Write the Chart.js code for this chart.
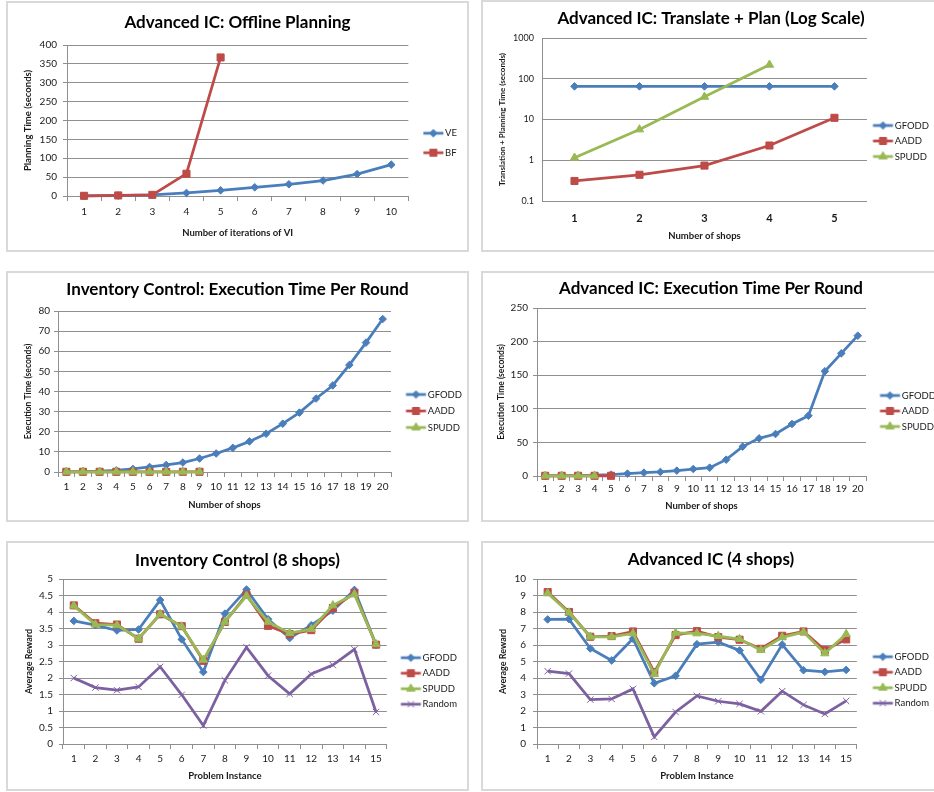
<!DOCTYPE html>
<html>
<head>
<meta charset="utf-8">
<script src="https://cdn.jsdelivr.net/npm/chart.js@4.4.1/dist/chart.umd.min.js"></script>
<style>
  body { margin: 0; background: #fff; width: 934px; height: 792px; overflow: hidden; position: relative; }
  .panel { position: absolute; border: 2px solid #d9d9d9; box-sizing: border-box; background: #fff; }
  .panel canvas { position: absolute; left: 0; top: 0; }
</style>
</head>
<body>
<div class="panel" style="left:6px;top:1px;width:463px;height:251px"><canvas id="c1" width="459" height="247"></canvas></div>
<div class="panel" style="left:481px;top:0px;width:460px;height:252px"><canvas id="c2" width="456" height="248"></canvas></div>
<div class="panel" style="left:6px;top:271px;width:463px;height:251px"><canvas id="c3" width="459" height="247"></canvas></div>
<div class="panel" style="left:481px;top:271px;width:460px;height:251px"><canvas id="c4" width="456" height="247"></canvas></div>
<div class="panel" style="left:6px;top:541px;width:463px;height:250px"><canvas id="c5" width="459" height="246"></canvas></div>
<div class="panel" style="left:481px;top:541px;width:460px;height:250px"><canvas id="c6" width="456" height="246"></canvas></div>
<script>
// ---- data ----
let viIterations = ['1', '2', '3', '4', '5', '6', '7', '8', '9', '10'];
let planVE = [0.5, 1, 3, 8, 15, 23, 31, 41, 58, 83];
let planBF = [0.5, 1.5, 3, 59, 367];

let shops5 = ['1', '2', '3', '4', '5'];
let tpGFODD = [65, 65, 65, 65, 65];
let tpAADD = [0.31, 0.44, 0.74, 2.3, 11];
let tpSPUDD = [1.15, 5.7, 36, 220];
let logTicks = [0.1, 1, 10, 100, 1000];

let shops20 = ['1', '2', '3', '4', '5', '6', '7', '8', '9', '10', '11', '12', '13', '14', '15', '16', '17', '18', '19', '20'];
let icGFODD = [0.1, 0.2, 0.4, 0.8, 1.5, 2.5, 3.5, 4.7, 6.7, 9.2, 12, 15.2, 19, 24, 29.5, 36.5, 43, 53.2, 64.3, 76];
let icAADD = [0.1, 0.1, 0.1, 0.1, 0.1, 0.1, 0.1, 0.1, 0.1];
let icSPUDD = [0.1, 0.1, 0.1, 0.1, 0.1, 0.1, 0.1, 0.1, 0.1];

let aicGFODD = [0.2, 0.4, 0.7, 1.2, 2, 3.5, 5, 6, 8, 10.4, 12.4, 24.3, 43.7, 56, 62.5, 77.4, 89.8, 155.8, 182.5, 208.8];
let aicAADD = [0.3, 0.3, 0.3, 0.3, 0.3];
let aicSPUDD = [0.3, 0.3, 0.3, 0.3];

let instances = ['1', '2', '3', '4', '5', '6', '7', '8', '9', '10', '11', '12', '13', '14', '15'];
let r8GFODD = [3.73, 3.60, 3.44, 3.47, 4.36, 3.17, 2.18, 3.95, 4.68, 3.78, 3.21, 3.60, 4.04, 4.67, 3.01];
let r8AADD = [4.20, 3.66, 3.62, 3.19, 3.93, 3.57, 2.52, 3.70, 4.52, 3.58, 3.33, 3.45, 4.12, 4.57, 3.01];
let r8SPUDD = [4.19, 3.62, 3.60, 3.19, 3.94, 3.56, 2.55, 3.70, 4.49, 3.70, 3.36, 3.48, 4.20, 4.54, 3.02];
let r8Random = [2.00, 1.71, 1.63, 1.73, 2.34, 1.49, 0.56, 1.93, 2.93, 2.07, 1.52, 2.12, 2.39, 2.87, 0.97];

let r4GFODD = [7.55, 7.57, 5.79, 5.06, 6.38, 3.68, 4.13, 6.05, 6.17, 5.67, 3.89, 6.03, 4.47, 4.37, 4.49];
let r4AADD = [9.21, 8.00, 6.50, 6.54, 6.82, 4.35, 6.60, 6.84, 6.48, 6.32, 5.77, 6.56, 6.82, 5.69, 6.34];
let r4SPUDD = [9.13, 7.96, 6.50, 6.50, 6.70, 4.23, 6.74, 6.70, 6.54, 6.36, 5.69, 6.46, 6.78, 5.49, 6.66];
let r4Random = [4.41, 4.27, 2.69, 2.73, 3.34, 0.43, 1.94, 2.91, 2.59, 2.43, 1.98, 3.20, 2.37, 1.82, 2.61];

// ---- styling ----
const FONT = 'Lato, "Open Sans", sans-serif';
const GRID = '#8f8f8f';
const TITLE_SIZE = 17;
const BLUE = '#4A7EBB', RED = '#BE4B48', GREEN = '#98B954', PURPLE = '#7D60A0';
const STYLES = {
  blue: {color: BLUE, pointStyle: 'rectRot', radius: 3.8},
  red: {color: RED, pointStyle: 'rect', radius: 5},
  green: {color: GREEN, pointStyle: 'triangle', radius: 4.8},
  purple: {color: PURPLE, pointStyle: 'crossRot', radius: 4.5}
};

function drawMarker(g, style, x, y, r) {
  g.lineWidth = 1;
  g.beginPath();
  if (style === 'rectRot') {
    g.moveTo(x, y - r); g.lineTo(x + r, y); g.lineTo(x, y + r); g.lineTo(x - r, y); g.closePath(); g.fill();
  } else if (style === 'rect') {
    const s = r * Math.SQRT1_2;
    g.rect(x - s, y - s, 2 * s, 2 * s); g.fill();
  } else if (style === 'triangle') {
    for (let k = 0; k < 3; k++) {
      const a = -Math.PI / 2 + k * 2 * Math.PI / 3;
      if (k === 0) g.moveTo(x + Math.cos(a) * r, y + Math.sin(a) * r);
      else g.lineTo(x + Math.cos(a) * r, y + Math.sin(a) * r);
    }
    g.closePath(); g.fill();
  } else {
    const d = r * Math.SQRT1_2;
    g.moveTo(x - d, y - d); g.lineTo(x + d, y + d);
    g.moveTo(x + d, y - d); g.lineTo(x - d, y + d);
  }
  g.stroke();
}

// legend swatch: short line with the marker in the middle, like Excel
function legendIcon(st, shift) {
  const boxW = shift + 17;
  const c = boxW / 2;
  const half = Math.ceil(Math.max(Math.abs(shift - c), Math.abs(shift + 20 - c))) + 2;
  const cv = document.createElement('canvas');
  cv.width = half * 2; cv.height = 14;
  const g = cv.getContext('2d');
  const x0 = half - c + shift;
  g.strokeStyle = st.color; g.fillStyle = st.color; g.lineWidth = 2.75;
  g.beginPath(); g.moveTo(x0, 7); g.lineTo(x0 + 20, 7); g.stroke();
  drawMarker(g, st.pointStyle, x0 + 10, 7, st.radius);
  return cv;
}

function series(label, data, st, i, n) {
  return {
    label: label, data: data,
    borderColor: st.color, backgroundColor: st.color, borderWidth: 2.75,
    pointStyle: st.pointStyle, pointRadius: st.radius,
    pointBackgroundColor: st.color, pointBorderColor: st.color, pointBorderWidth: 1,
    tension: 0, clip: false, order: n - i
  };
}

function makeChart(id, o) {
  const cv = document.getElementById(id);
  const W = cv.width, H = cv.height;
  const icons = o.styles.map(st => legendIcon(st, o.legend.shift));
  const datasets = o.series.map((s, i) => series(s[0], s[1], o.styles[i], i, o.series.length));
  const xTitleFont = {family: FONT, size: o.xTitleSize || 9.5, weight: 'bold', lineHeight: 1.2};
  const yTitleFont = {family: FONT, size: o.yTitleSize || 9, weight: 'bold', lineHeight: 1.2};
  const th = TITLE_SIZE * 0.6;
  return new Chart(cv, {
    type: 'line',
    data: {labels: o.labels, datasets: datasets},
    options: {
      responsive: false,
      animation: false,
      layout: {padding: 0},
      plugins: {
        tooltip: {enabled: false},
        title: {
          display: true, text: o.title, color: '#000',
          font: {family: FONT, size: TITLE_SIZE, weight: 'bold', lineHeight: 1.2},
          padding: {top: o.titleCenter - th, bottom: o.plot.t - o.titleCenter - th}
        },
        legend: {
          position: 'right',
          maxWidth: W - o.plot.r,
          title: {display: true, text: '', font: {size: 10, lineHeight: 1}, padding: {top: o.legend.th - 10, bottom: 0}},
          labels: {
            usePointStyle: true,
            pointStyleWidth: o.legend.shift + 17,
            padding: o.legend.pad,
            color: '#1a1a1a',
            font: {family: FONT, size: 9.5},
            generateLabels: chart => {
              const items = Chart.defaults.plugins.legend.labels.generateLabels(chart);
              items.sort((a, b) => a.datasetIndex - b.datasetIndex);
              items.forEach(it => { it.pointStyle = icons[it.datasetIndex]; });
              return items;
            }
          }
        }
      },
      scales: {
        x: {
          offset: true,
          afterFit: s => { s.height = H - o.plot.b; },
          grid: {display: true, drawOnChartArea: false, drawTicks: o.xTicks !== false, tickLength: 5, offset: true, color: GRID},
          border: {display: true, color: GRID},
          ticks: {
            autoSkip: false, maxRotation: 0, padding: o.xPad, color: '#1a1a1a',
            font: o.xBold ? {family: FONT, size: 11, weight: 'bold'} : {family: FONT, size: 10}
          },
          title: {
            display: true, text: o.xTitle, color: '#1a1a1a', font: xTitleFont,
            padding: {top: 0, bottom: H - o.xTitleCenter - xTitleFont.size * 0.6}
          }
        },
        y: Object.assign({
          afterFit: s => { s.width = o.plot.l; },
          grid: {color: GRID, drawTicks: o.yTicks !== false, tickLength: 4},
          border: {display: true, color: GRID},
          ticks: {
            autoSkip: false, padding: o.yPad, color: '#1a1a1a',
            font: {family: FONT, size: o.yTickSize || 10},
            stepSize: o.yStep,
            callback: v => String(v)
          },
          title: {
            display: true, text: o.yTitle, color: '#1a1a1a', font: yTitleFont,
            padding: {top: o.yTitleCenter - yTitleFont.size * 0.6, bottom: 0}
          }
        }, o.y)
      }
    }
  });
}

// ---- charts ----
let offlinePlanning = makeChart('c1', {
  title: 'Advanced IC: Offline Planning', titleCenter: 20,
  labels: viIterations,
  series: [['VE', planVE], ['BF', planBF]],
  styles: [STYLES.blue, STYLES.red],
  plot: {l: 59, r: 400, t: 42, b: 193},
  legend: {pad: 10, shift: 5, th: 33},
  xTitle: 'Number of iterations of VI', xTitleCenter: 230, xPad: 5,
  yTitle: 'Planning Time (seconds)', yTitleCenter: 20, yTitleSize: 9.5, yPad: 6, yStep: 50,
  y: {min: 0, max: 400}
});

let translatePlan = makeChart('c2', {
  title: 'Advanced IC: Translate + Plan (Log Scale)', titleCenter: 17,
  labels: shops5,
  series: [['GFODD', tpGFODD], ['AADD', tpAADD], ['SPUDD', tpSPUDD]],
  styles: [STYLES.blue, STYLES.red, STYLES.green],
  plot: {l: 59, r: 383, t: 36, b: 199},
  legend: {pad: 6, shift: 0, th: 30},
  xTitle: 'Number of shops', xTitleCenter: 234, xPad: 11, xBold: true, xTicks: false,
  yTitle: 'Translation + Planning Time (seconds)', yTitleCenter: 19, yTitleSize: 8, yPad: 8, yTicks: false, yTickSize: 9,
  y: {
    type: 'logarithmic', min: 0.1, max: 1000,
    afterBuildTicks: s => { s.ticks = logTicks.map(v => ({value: v})); }
  }
});

let icExecution = makeChart('c3', {
  title: 'Inventory Control: Execution Time Per Round', titleCenter: 17,
  labels: shops20,
  series: [['GFODD', icGFODD], ['AADD', icAADD], ['SPUDD', icSPUDD]],
  styles: [STYLES.blue, STYLES.red, STYLES.green],
  plot: {l: 50, r: 383, t: 38, b: 199},
  legend: {pad: 7, shift: 8, th: 29},
  xTitle: 'Number of shops', xTitleCenter: 232, xPad: 4,
  yTitle: 'Execution Time (seconds)', yTitleCenter: 20, yTitleSize: 8.5, yPad: 4, yStep: 10,
  y: {min: 0, max: 80}
});

let aicExecution = makeChart('c4', {
  title: 'Advanced IC: Execution Time Per Round', titleCenter: 16,
  labels: shops20,
  series: [['GFODD', aicGFODD], ['AADD', aicAADD], ['SPUDD', aicSPUDD]],
  styles: [STYLES.blue, STYLES.red, STYLES.green],
  plot: {l: 54, r: 383, t: 35, b: 203},
  legend: {pad: 6, shift: 8, th: 29},
  xTitle: 'Number of shops', xTitleCenter: 233, xPad: 2,
  yTitle: 'Execution Time (seconds)', yTitleCenter: 18, yTitleSize: 8.5, yPad: 5, yStep: 50,
  y: {min: 0, max: 250}
});

let reward8 = makeChart('c5', {
  title: 'Inventory Control (8 shops)', titleCenter: 18,
  labels: instances,
  series: [['GFODD', r8GFODD], ['AADD', r8AADD], ['SPUDD', r8SPUDD], ['Random', r8Random]],
  styles: [STYLES.blue, STYLES.red, STYLES.green, STYLES.purple],
  plot: {l: 55, r: 378, t: 36, b: 201},
  legend: {pad: 6, shift: 8, th: 30},
  xTitle: 'Problem Instance', xTitleCenter: 233, xPad: 4,
  yTitle: 'Average Reward', yTitleCenter: 21, yPad: 6, yStep: 0.5,
  y: {min: 0, max: 5}
});

let reward4 = makeChart('c6', {
  title: 'Advanced IC (4 shops)', titleCenter: 17,
  labels: instances,
  series: [['GFODD', r4GFODD], ['AADD', r4AADD], ['SPUDD', r4SPUDD], ['Random', r4Random]],
  styles: [STYLES.blue, STYLES.red, STYLES.green, STYLES.purple],
  plot: {l: 54, r: 373, t: 36, b: 201},
  legend: {pad: 6, shift: 10, th: 28},
  xTitle: 'Problem Instance', xTitleCenter: 233, xPad: 4,
  yTitle: 'Average Reward', yTitleCenter: 20, yPad: 7, yStep: 1,
  y: {min: 0, max: 10}
});
</script>
</body>
</html>
